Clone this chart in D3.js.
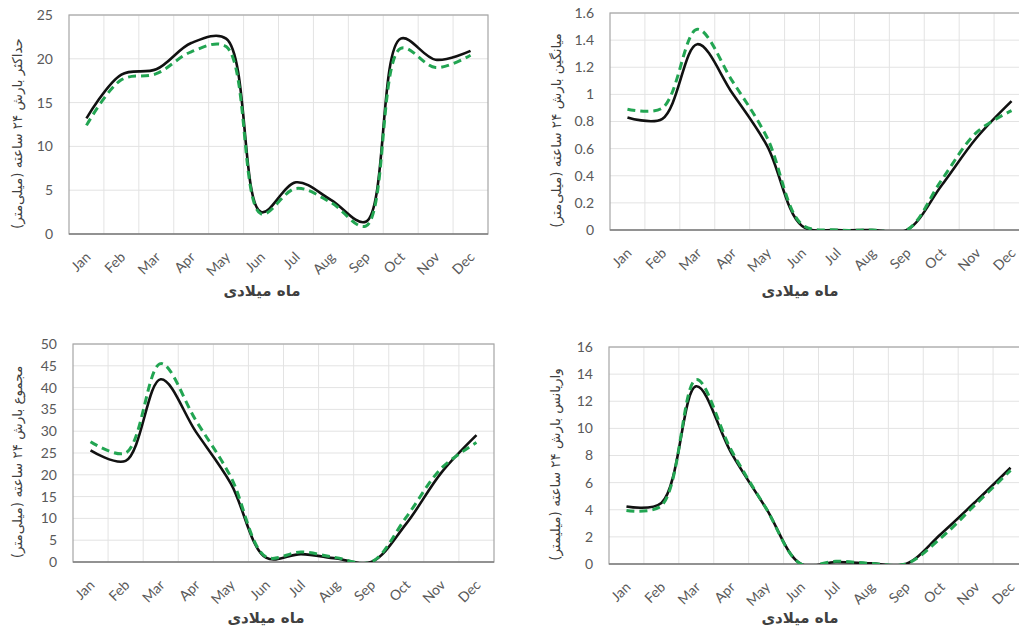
<!DOCTYPE html>
<html><head><meta charset="utf-8">
<script src="https://cdn.jsdelivr.net/npm/d3@7"></script>
<style>
body{margin:0;background:#fff;}
svg{display:block;}
</style></head>
<body>
<svg id="chart" width="1019" height="630"></svg>
<script>
const months = ["Jan","Feb","Mar","Apr","May","Jun","Jul","Aug","Sep","Oct","Nov","Dec"];
const xTitle = "ماه میلادی";

// Panel 1: maximum 24h precipitation
const maxTitle = "حداکثر بارش ۲۴ ساعته (میلی‌متر)";
const maxTicks = [0,5,10,15,20,25];
const maxObserved = [13.2,18.2,18.8,21.8,22.3,2.5,5.9,3.9,1.4,22.3,19.9,20.9];
const maxModel    = [12.4,17.6,18.3,20.8,21.4,2.3,5.2,3.6,0.9,21.2,19.0,20.4];

// Panel 2: mean 24h precipitation
const meanTitle = "میانگین بارش ۲۴ ساعته (میلی‌متر)";
const meanTicks = [0,0.2,0.4,0.6,0.8,1,1.2,1.4,1.6];
const meanObserved = [0.83,0.82,1.37,1.01,0.62,0.03,0,0,0,0.33,0.68,0.95];
const meanModel    = [0.89,0.90,1.48,1.10,0.68,0.04,0,0,0,0.37,0.72,0.88];

// Panel 3: total 24h precipitation
const sumTitle = "مجموع بارش ۲۴ ساعته (میلی‌متر)";
const sumTicks = [0,5,10,15,20,25,30,35,40,45,50];
const sumObserved = [25.6,23.2,41.9,29.9,18.0,1.0,1.8,0.8,0,8.8,20.5,29.1];
const sumModel    = [27.6,25.0,45.5,32.5,19.5,1.2,2.3,1.0,0,10.3,21.5,27.4];

// Panel 4: variance of 24h precipitation
const varTitle = "واریانس بارش ۲۴ ساعته (میلیمتر)";
const varTicks = [0,2,4,6,8,10,12,14,16];
const varObserved = [4.24,4.5,13.1,8.2,4.1,0,0.15,0.05,0,2.2,4.6,7.1];
const varModel    = [3.95,4.3,13.6,8.4,4.1,0,0.2,0.05,0,1.9,4.4,6.9];

const svg = d3.select("#chart");
const latin = "Lato, 'Open Sans', sans-serif";
const persian = "'DejaVu Sans', sans-serif";

function panel(id, g, ticks, title, obs, mod) {
  const x = d3.scaleBand().domain(months).range([g.left, g.right]);
  const y = d3.scaleLinear().domain([ticks[0], ticks[ticks.length-1]]).range([g.bottom, g.top]);
  const root = svg.append("g");
  root.append("clipPath").attr("id", "clip"+id).append("rect")
    .attr("x", g.left).attr("y", g.top - 5).attr("width", g.right - g.left).attr("height", g.bottom - g.top + 5);

  // horizontal gridlines
  root.append("g").selectAll("line").data(ticks.slice(1)).join("line")
    .attr("x1", g.left).attr("x2", g.right)
    .attr("y1", d => y(d)).attr("y2", d => y(d))
    .attr("stroke", "#e3e3e3").attr("stroke-width", 1);
  // vertical gridlines at category boundaries
  root.append("g").selectAll("line").data(months.slice(1)).join("line")
    .attr("x1", d => x(d)).attr("x2", d => x(d))
    .attr("y1", g.top).attr("y2", g.bottom)
    .attr("stroke", "#e3e3e3").attr("stroke-width", 1);
  // frame
  root.append("rect").attr("x", g.left).attr("y", g.top)
    .attr("width", g.right - g.left).attr("height", g.bottom - g.top)
    .attr("fill", "none").attr("stroke", "#a6a6a6").attr("stroke-width", 1.2);
  // bottom axis line
  root.append("line").attr("x1", g.left).attr("x2", g.right)
    .attr("y1", y(0)).attr("y2", y(0)).attr("stroke", "#7f7f7f").attr("stroke-width", 1.5);

  // y axis via d3.axisLeft
  const yAxis = d3.axisLeft(y).tickValues(ticks).tickSize(0).tickPadding(16)
    .tickFormat(d => d3.format("~g")(d));
  const ya = root.append("g").attr("transform", `translate(${g.left},0)`).call(yAxis);
  ya.select(".domain").remove();
  ya.selectAll("text").attr("font-family", latin).attr("font-size", 14).attr("fill", "#595959");

  // x axis labels (rotated)
  root.append("g").selectAll("text").data(months).join("text")
    .attr("transform", d => `translate(${x(d) + x.bandwidth()/2 + 5},${g.bottom + 24}) rotate(-45)`)
    .attr("text-anchor", "end")
    .attr("font-family", latin).attr("font-size", 14).attr("fill", "#595959")
    .text(d => d);

  // axis titles
  root.append("text")
    .attr("transform", `translate(${g.ytx},${(g.top + g.bottom)/2 + 9}) rotate(-90)`)
    .attr("text-anchor", "middle").attr("dominant-baseline", "central")
    .attr("font-family", persian).attr("font-size", 13.5).attr("fill", "#404040")
    .text(title);
  root.append("text")
    .attr("x", g.xtx).attr("y", g.xty)
    .attr("text-anchor", "middle")
    .attr("font-family", persian).attr("font-size", 15).attr("font-weight", "bold").attr("fill", "#404040")
    .text(xTitle);

  const line = d3.line()
    .x((d, i) => x(months[i]) + x.bandwidth()/2)
    .y(d => y(d))
    .curve(d3.curveCatmullRom.alpha(0.5));
  const lines = root.append("g").attr("clip-path", `url(#clip${id})`);
  lines.append("path").attr("d", line(obs)).attr("fill", "none")
    .attr("stroke", "#111").attr("stroke-width", 2.6).attr("stroke-linejoin", "round");
  lines.append("path").attr("d", line(mod)).attr("fill", "none")
    .attr("stroke", "#22a552").attr("stroke-width", 3).attr("stroke-dasharray", "8,5");
}

panel(1, {left:69, right:488, top:15, bottom:234, ytx:17, xtx:262, xty:296}, maxTicks, maxTitle, maxObserved, maxModel);
panel(2, {left:610, right:1029, top:13, bottom:230, ytx:556, xtx:800, xty:296}, meanTicks, meanTitle, meanObserved, meanModel);
panel(3, {left:73, right:494, top:344, bottom:562, ytx:17, xtx:266, xty:623}, sumTicks, sumTitle, sumObserved, sumModel);
panel(4, {left:609, right:1028, top:347, bottom:564, ytx:555, xtx:800, xty:623}, varTicks, varTitle, varObserved, varModel);
</script>
</body></html>
